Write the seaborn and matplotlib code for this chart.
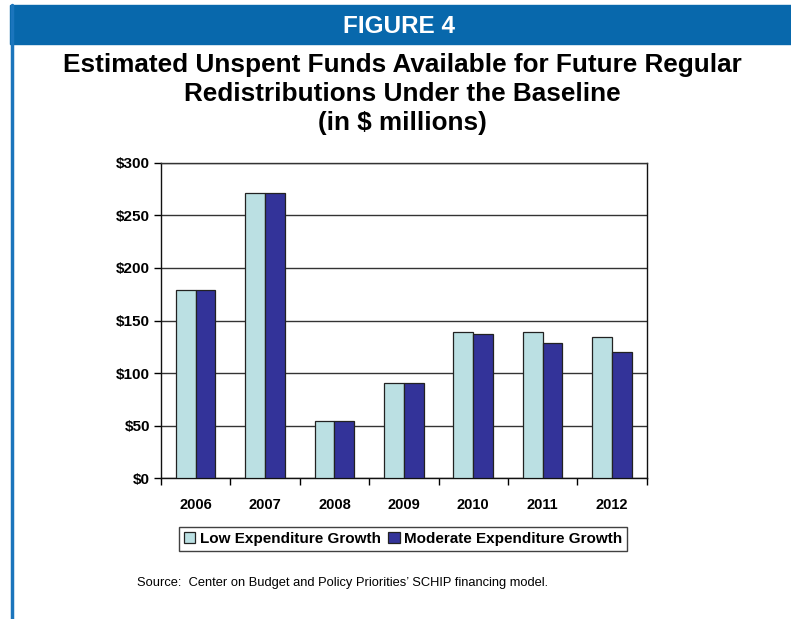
import matplotlib
matplotlib.use("Agg")
import matplotlib.pyplot as plt
from matplotlib.patches import Rectangle, Patch
from matplotlib.lines import Line2D
import seaborn as sns
import pandas as pd

years = ["2006", "2007", "2008", "2009", "2010", "2011", "2012"]
low_growth = [179, 271, 54, 91, 139, 139, 134]
moderate_growth = [179, 271, 54, 91, 137, 129, 120]
series_names = ["Low Expenditure Growth", "Moderate Expenditure Growth"]
y_ticks = [0, 50, 100, 150, 200, 250, 300]
y_tick_labels = ["$0", "$50", "$100", "$150", "$200", "$250", "$300"]
title_lines = ["Estimated Unspent Funds Available for Future Regular",
               "Redistributions Under the Baseline",
               "(in $ millions)"]

colors = ["#BBE0E3", "#333399"]
header_blue = "#0868AC"

df = pd.DataFrame({
    "year": years * 2,
    "value": low_growth + moderate_growth,
    "series": [series_names[0]] * len(years) + [series_names[1]] * len(years),
})

sns.set_theme(style="white")
plt.rcParams["font.family"] = ["Liberation Sans", "DejaVu Sans"]
for key in ["text.color", "axes.labelcolor", "xtick.color", "ytick.color"]:
    plt.rcParams[key] = "black"

W, H = 791, 619
fig = plt.figure(figsize=(W / 100, H / 100), dpi=100)


def fx(px):
    return px / W


def fy(px):
    return 1 - px / H


# header band and left rule
fig.patches.append(Rectangle((fx(10), fy(44)), 1 - fx(10), 39 / H,
                             transform=fig.transFigure, color=header_blue, zorder=0))
fig.lines.append(Line2D([fx(11.5), fx(11.5)], [0, fy(5)],
                        transform=fig.transFigure, color="#1B75BC", lw=2.5))
fig.text(fx(399), fy(33), "FIGURE 4", color="white", ha="center", va="baseline",
         fontsize=17.5, fontweight="bold", fontstretch="condensed",
         family=["Liberation Sans Narrow", "DejaVu Sans Condensed", "Liberation Sans"])

for line, base in zip(title_lines, [72, 101, 130]):
    fig.text(fx(402), fy(base), line, ha="center", va="baseline",
             fontsize=18.85, fontweight="bold")

ax = fig.add_axes([fx(161), fy(478.3), (646.7 - 161) / W, (478.3 - 162.7) / H])
sns.barplot(data=df, x="year", y="value", hue="series", palette=colors, width=0.57,
            gap=0, edgecolor="#222222", linewidth=0.9, saturation=1, ax=ax,
            legend=False, zorder=3)

ax.set_xlim(-0.5, len(years) - 0.5)
ax.set_ylim(0, 300)
ax.set_yticks(y_ticks)
ax.set_yticklabels(y_tick_labels, fontsize=11, fontweight="bold")
ax.yaxis.grid(True, color="#333333", lw=1, zorder=0)
ax.set_axisbelow(True)
ax.set_xlabel("")
ax.set_ylabel("")

ax.set_xticks(range(len(years)))
ax.set_xticklabels(years, fontsize=10.5, fontweight="bold")
ax.set_xticks([i - 0.5 for i in range(len(years) + 1)], minor=True)
ax.tick_params(axis="x", which="major", length=0, pad=14)
ax.tick_params(axis="x", which="minor", length=5, width=1, color="black", direction="out", bottom=True)
ax.tick_params(axis="y", length=5, width=1, color="black", direction="out", left=True, pad=3)

for side in ["left", "right", "top", "bottom"]:
    ax.spines[side].set_visible(True)
    ax.spines[side].set_color("#111111")
    ax.spines[side].set_linewidth(1)
ax.spines["top"].set_color("#333333")

handles = [Patch(facecolor=c, edgecolor="#222222", linewidth=0.9) for c in colors]
leg = fig.legend(handles, series_names, loc="center", bbox_to_anchor=(fx(403), fy(539)),
                 ncol=2, frameon=True, fancybox=False, prop={"weight": "bold", "size": 11},
                 handlelength=0.75, handleheight=0.75, handletextpad=0.3, columnspacing=0.5,
                 borderpad=0.3, borderaxespad=0)
leg.get_frame().set_edgecolor("#111111")
leg.get_frame().set_linewidth(1)

fig.text(fx(137), fy(586),
         "Source:  Center on Budget and Policy Priorities\u2019 SCHIP financing model.",
         ha="left", va="baseline", fontsize=9.3)

fig.savefig("out.png", dpi=100)
